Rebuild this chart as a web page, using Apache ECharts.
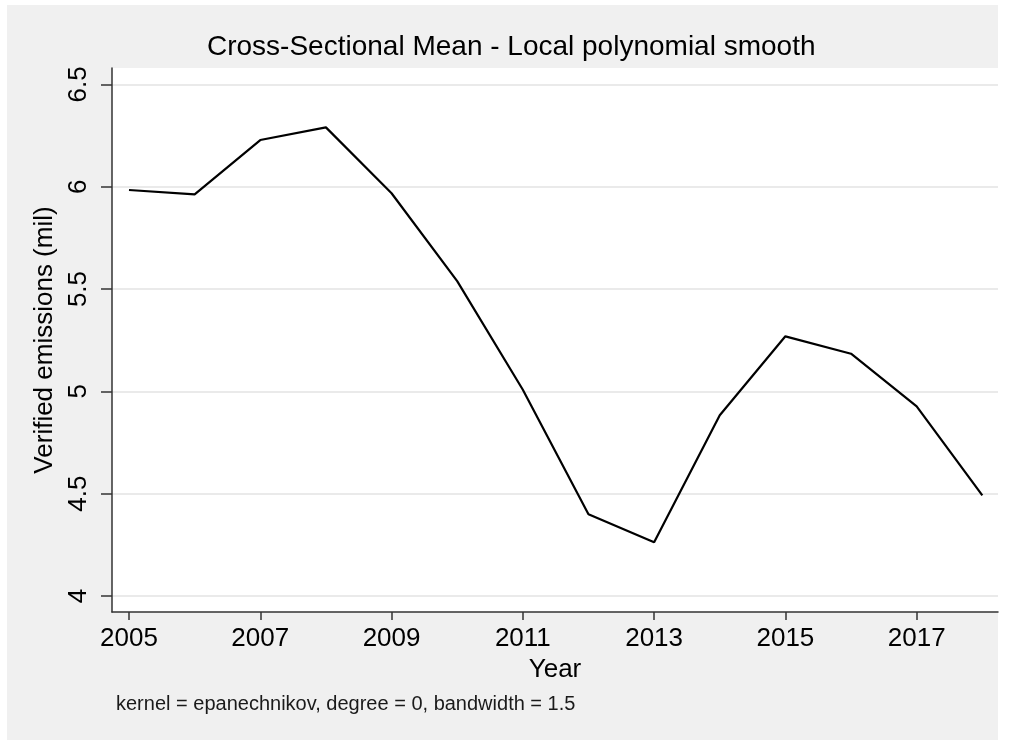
<!DOCTYPE html>
<html>
<head>
<meta charset="utf-8">
<title>Cross-Sectional Mean - Local polynomial smooth</title>
<script src="https://cdn.jsdelivr.net/npm/echarts@6/dist/echarts.min.js"></script>
<style>
    html, body { margin: 0; padding: 0; background: #fff; }
    #chart { width: 1013px; height: 740px; }
</style>
</head>
<body>
<div id="chart"></div>
<script>
// data
var years = [2005, 2006, 2007, 2008, 2009, 2010, 2011, 2012, 2013, 2014, 2015, 2016, 2017, 2018];
var emissions = [5.984, 5.963, 6.228, 6.29, 5.968, 5.539, 5.008, 4.40, 4.263, 4.883, 5.269, 5.184, 4.927, 4.492];
var xTicks = [2005, 2007, 2009, 2011, 2013, 2015, 2017];
var yTicks = [4, 4.5, 5, 5.5, 6, 6.5];

var font = '"Liberation Sans", Arial, sans-serif';

var points = [];
for (var i = 0; i < years.length; i++) {
    points.push([years[i], emissions[i]]);
}

var myChart = echarts.init(document.getElementById('chart'));

var option = {
    backgroundColor: '#f0f0f0',
    animation: false,
    textStyle: { fontFamily: font },
    graphic: [
        // white page strips round the stata graph region
        { type: 'rect', shape: { x: 0, y: 0, width: 1013, height: 5 }, style: { fill: '#fff' }, z: -1 },
        { type: 'rect', shape: { x: 0, y: 0, width: 7, height: 740 }, style: { fill: '#fff' }, z: -1 },
        { type: 'rect', shape: { x: 998, y: 0, width: 15, height: 740 }, style: { fill: '#fff' }, z: -1 },
        {
            type: 'text', left: 207, top: 33,
            style: { text: 'Cross-Sectional Mean - Local polynomial smooth', fontSize: 28, fontFamily: font, fill: '#000' }
        },
        {
            type: 'text', left: 116, top: 694,
            style: { text: 'kernel = epanechnikov, degree = 0, bandwidth = 1.5', fontSize: 20, fontFamily: font, fill: '#1a1a1a' }
        }
    ],
    grid: {
        left: 112,
        right: 15,
        top: 68,
        bottom: 128,
        show: true,
        backgroundColor: '#fff',
        borderWidth: 0
    },
    xAxis: {
        type: 'value',
        min: 2004.741,
        max: 2018.239,
        name: 'Year',
        nameLocation: 'middle',
        nameGap: 43,
        nameTextStyle: { fontSize: 26, color: '#000' },
        axisLine: { show: true, lineStyle: { color: '#333', width: 1.5 } },
        axisTick: { show: true, length: 8, customValues: xTicks, lineStyle: { color: '#333', width: 1.5 } },
        axisLabel: {
            customValues: xTicks, fontSize: 26, color: '#000', margin: 14,
            formatter: function(v) { return String(v); }
        },
        splitLine: { show: false }
    },
    yAxis: {
        type: 'value',
        min: 3.922,
        max: 6.58,
        name: 'Verified emissions (mil)',
        nameLocation: 'middle',
        nameGap: 52,
        nameTextStyle: { fontSize: 26, color: '#000' },
        axisLine: { show: true, lineStyle: { color: '#333', width: 1.5 } },
        axisTick: { show: true, length: 11, customValues: yTicks, lineStyle: { color: '#333', width: 1.5 } },
        axisLabel: { customValues: yTicks, fontSize: 26, color: '#000', rotate: 90, margin: 20 },
        splitLine: { show: true, lineStyle: { color: '#eaeaea', width: 2 } }
    },
    series: [{
        type: 'line',
        data: points,
        showSymbol: false,
        lineStyle: { color: '#000', width: 2.2 },
        z: 3
    }]
};

myChart.setOption(option);
</script>
</body>
</html>
